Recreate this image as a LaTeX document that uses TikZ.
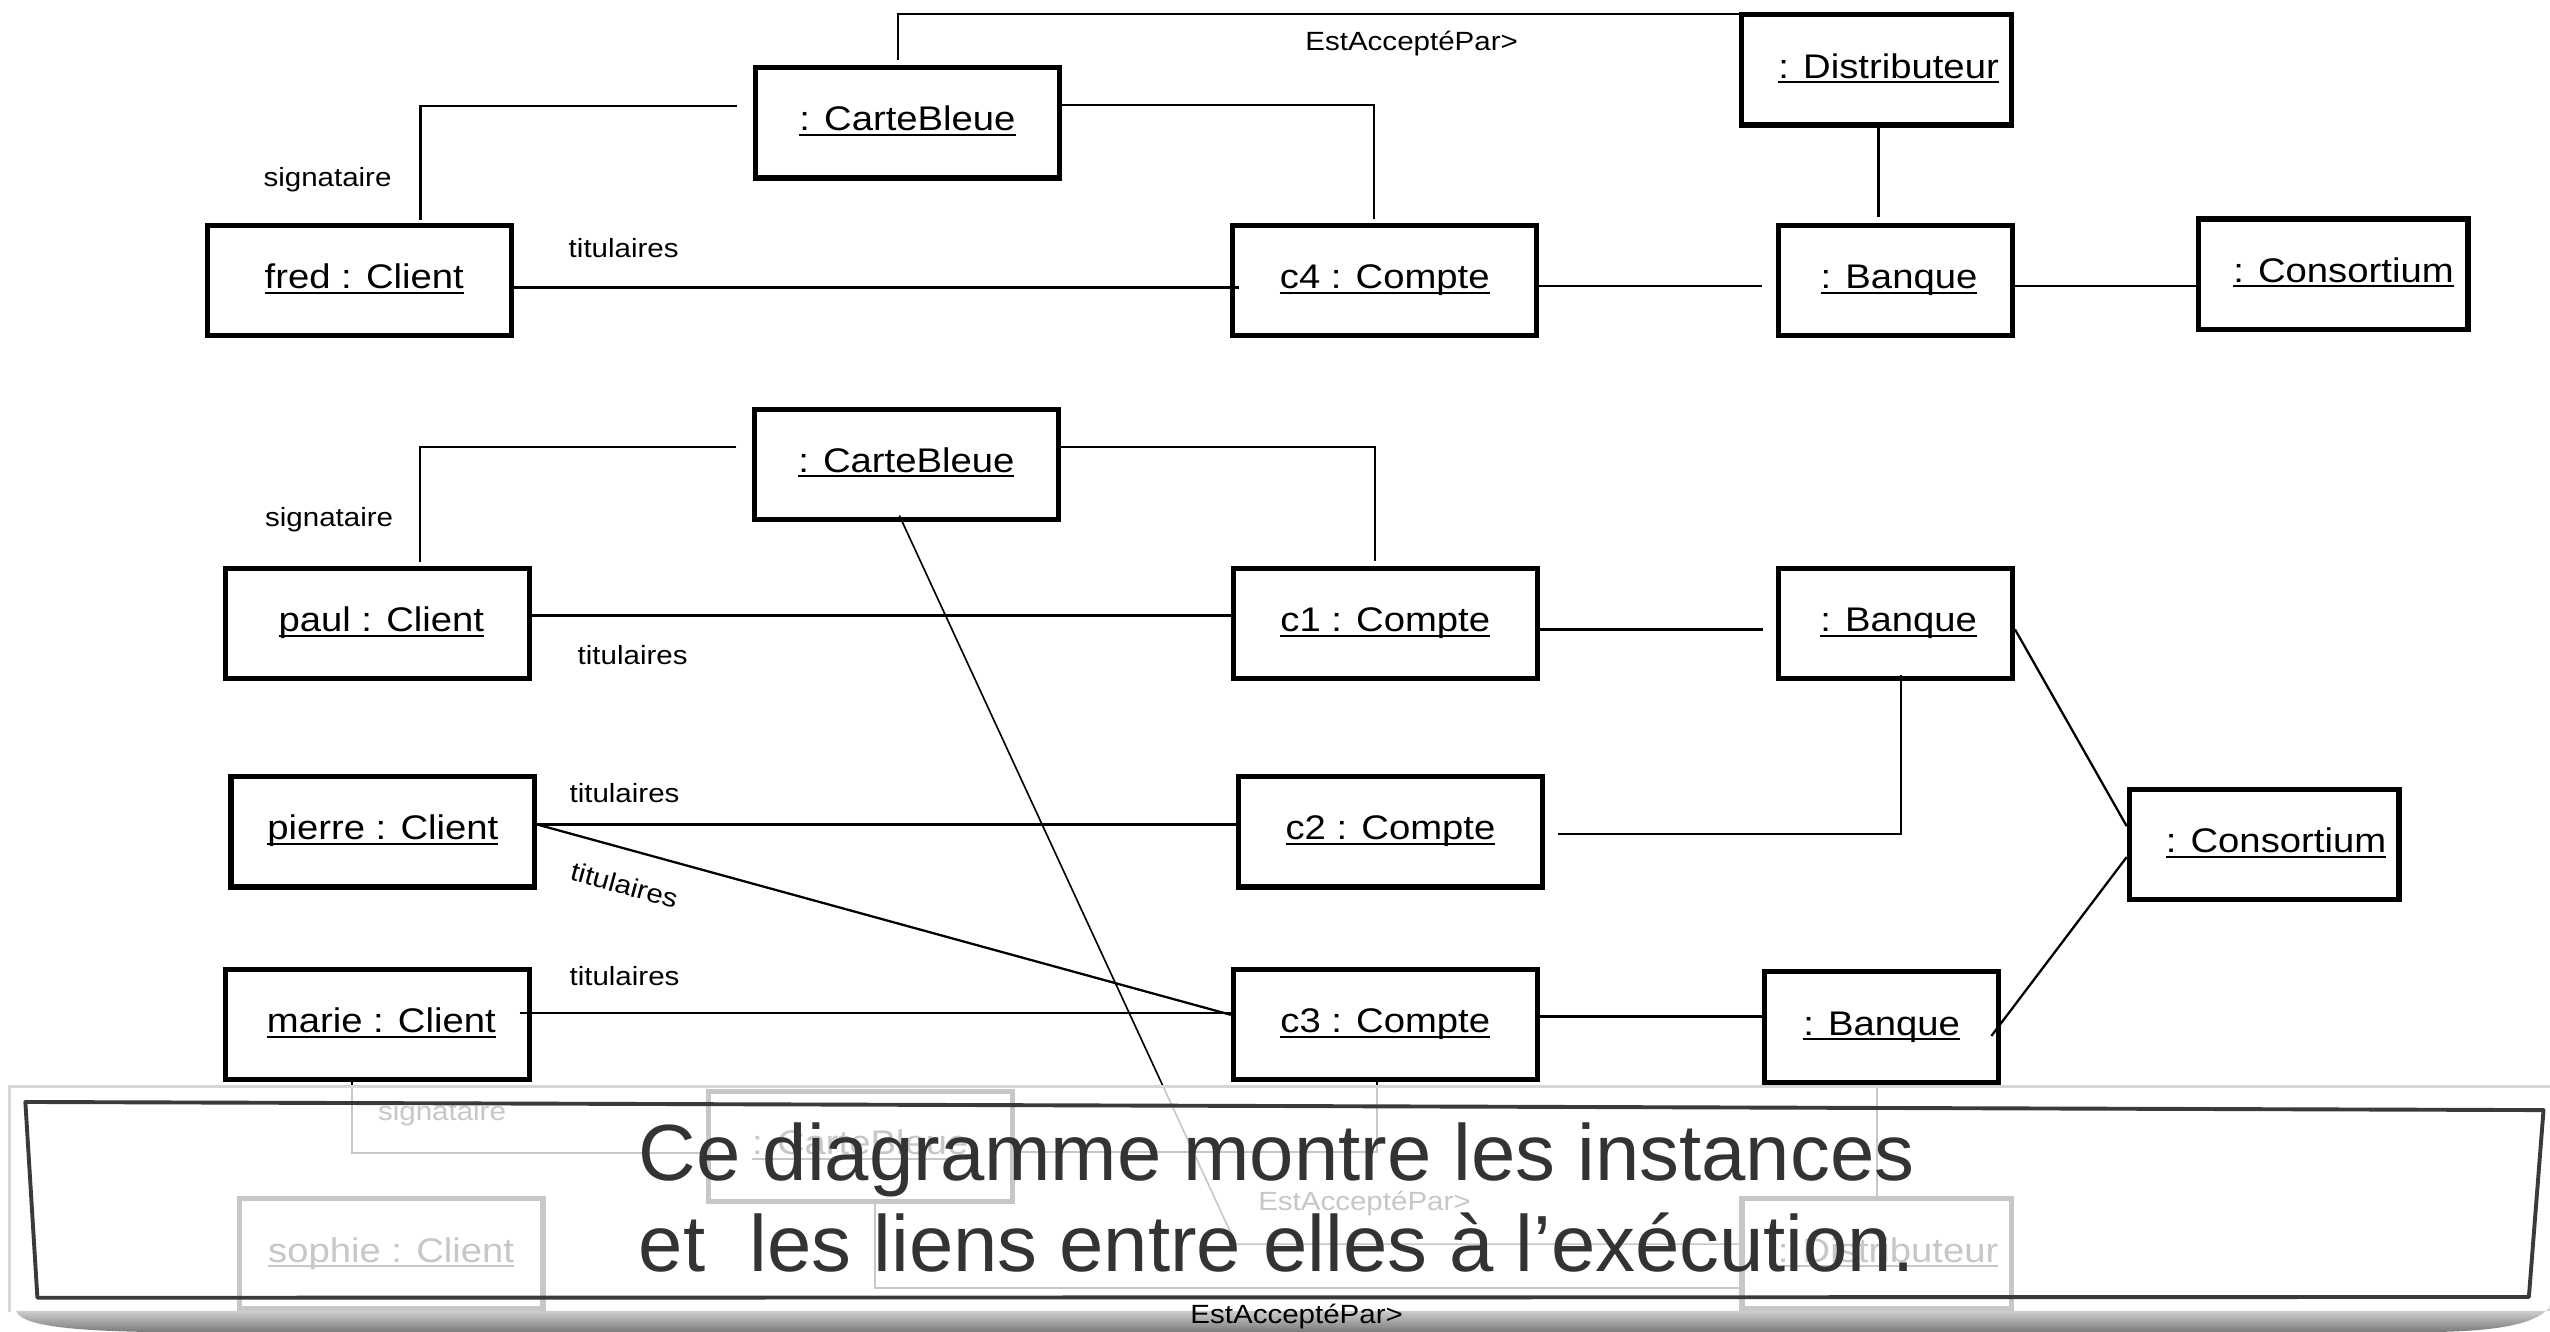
\documentclass[tikz,border=0pt]{standalone}
\usepackage{fontspec}
\setmainfont{Liberation Sans}
\newfontfamily\dfont[FakeStretch=1.12]{Liberation Sans}
\usetikzlibrary{calc}
% underline set at a fixed distance under the baseline
\newcommand\uln[1]{\setbox0=\hbox{#1}\rlap{\rule[-1.5pt]{\wd0}{0.6pt}}\box0}
\definecolor{captiongray}{HTML}{333333}
\definecolor{framegray}{HTML}{3A3A3A}
\definecolor{panelrim}{HTML}{D6D6D6}

\begin{document}
\begin{tikzpicture}[x=0.5pt,y=-0.5pt,
  obj/.style={draw, line width=1.6pt, inner sep=0pt, text height=7.4pt, text depth=2.4pt,
              font=\dfont\fontsize{10.5}{12}\selectfont},
  objwide/.style={obj, minimum width=93.4pt, minimum height=33.9pt},
  objbank/.style={obj, minimum width=71.9pt, minimum height=33.9pt},
  objmed/.style={obj, minimum width=82.9pt, minimum height=33.9pt},
  link/.style={line width=0.7pt},
  role/.style={font=\dfont\fontsize{8.1}{10}\selectfont, inner sep=0pt},
  captext/.style={anchor=base west, inner sep=0pt, text=captiongray,
              font=\fontsize{24.5}{28}\selectfont},
]
\useasboundingbox (0,0) rectangle (1568,819);
\fill[white] (0,0) rectangle (1568,819);

% ---------- first group: fred ----------
\node[objwide] (cbA)   at (558,75.5)    {\uln{: CarteBleue}};
\node[objwide] (fred)  at (221,172.5)   {\hspace*{3pt}\uln{fred : Client}};
\node[objwide] (cfour) at (851.5,172.5) {\uln{c4 : Compte}};
\node[objbank] (bqA)   at (1165.7,172.5){\hspace*{2pt}\uln{: Banque}};
\node[objmed]  (csA)   at (1434.7,168.5){\hspace*{6.3pt}\uln{: Consortium}};
\node[objmed]  (distA) at (1153.8,43)   {\hspace*{7.5pt}\uln{: Distributeur}};

\draw[link] ($(cbA.west)+(-10,-10.5)$) -| ($(fred.north)+(37.6,-2)$);
\draw[link] ($(cbA.east)+(0,-11)$) -| ($(cfour.north)+(-6.5,-2.5)$);
\draw[link] ($(cbA.north)+(-6,-3)$) |- ($(distA.north west)+(0,1)$);
\draw[link] ($(fred.east)+(0,4.2)$) -- ($(cfour.west)+(5.5,4.2)$);
\draw[link] ($(cfour.east)+(0,3.5)$) -- ($(bqA.west)+(-9,3.5)$);
\draw[link] ($(bqA.east)+(0,3.5)$) -- ($(csA.west)+(0,7.5)$);
\draw[link] ($(distA.south)+(1.2,0)$) -- ($(distA.south |- bqA.north)+(1.2,-3.4)$);

\node[role] (sigA) at (201.4,110.7) {signataire};
\node[role] (titA) at (383.5,152.8) {titulaires};
\node[role] (estA) at (868,26.5)    {EstAcceptéPar>};

% ---------- second group: paul, pierre, marie ----------
\node[objwide] (cbB)    at (557.3,285.5) {\uln{: CarteBleue}};
\node[objwide] (paul)   at (232,383.5)   {\hspace*{2.5pt}\uln{paul : Client}};
\node[objwide] (pierre) at (235.4,511.5) {\uln{pierre : Client}};
\node[objwide] (marie)  at (232,630)     {\hspace*{2.5pt}\uln{marie : Client}};
\node[objwide] (cone)   at (851.8,383.5) {\uln{c1 : Compte}};
\node[objwide] (ctwo)   at (855,511.5)   {\uln{c2 : Compte}};
\node[objwide] (cthree) at (851.8,630)   {\uln{c3 : Compte}};
\node[objbank] (bqB)    at (1165.5,383.5){\hspace*{2pt}\uln{: Banque}};
\node[objbank] (bqC)    at (1157,631.5)  {\uln{: Banque}};
\node[objmed]  (csB)    at (1392.2,519.3){\hspace*{7.3pt}\uln{: Consortium}};

% ---------- third group (under the caption panel) ----------
\node[objwide] (cbC)    at (529,705)   {\uln{: CarteBleue}};
\node[objwide] (sophie) at (240.5,771) {\uln{sophie : Client}};
\node[objmed]  (distB)  at (1154,771)  {\hspace*{7pt}\uln{: Distributeur}};

\draw[link] ($(cbB.west)+(-9.5,-10.8)$) -| ($(paul.north)+(26.3,-2.7)$);
\draw[link] ($(cbB.east)+(0,-10.8)$) -| ($(cone.north)+(-6.3,-3)$);
\coordinate (bend) at (760,765);
\draw[line width=0.5pt] ($(cbB.south)+(-4.3,-4)$) -- (bend) -- (bend -| distB.west);
\draw[link] ($(paul.east)+(0,-5)$) -- ($(cone.west)+(0,-5)$);
\draw[link] ($(cone.east)+(0,3.5)$) -- ($(bqB.west)+(-8,3.5)$);
\draw[link] ($(pierre.east)+(0,-4.5)$) -- ($(ctwo.west)+(0,-4.5)$);
\draw[link] ($(pierre.east)+(0,-4.5)$) -- ($(cthree.west)+(0,-6)$);
\draw[link] ($(marie.east)+(-7.5,-7)$) -- ($(cthree.west)+(0,-7)$);
\draw[link] ($(cthree.east)+(0,-5)$) -- ($(bqC.west)+(0,-6.5)$);
\draw[link] ($(ctwo.east)+(8,1.5)$) -| ($(bqB.south)+(3.5,-4)$);
\draw[link] ($(bqB.east)+(0,3.5)$) -- ($(csB.west)+(0,-11.3)$);
\draw[link] ($(csB.west)+(0,7.7)$) -- ($(bqC.east)+(-6,5.5)$);

\draw[link] ($(marie.south)+(-15.5,0)$) |- ($(cbC.west)+(0,4)$);
\draw[link] ($(cbC.east)+(0,3.5)$) -| ($(cthree.south)+(-5,0)$);
\draw[link] ($(cbC.south)+(9,0)$) |- ($(distB.west)+(0,21)$);
\draw[link] (bqC.south -| distB.north) -- (distB.north);

\node[role] (sigB) at (202.4,319.8) {signataire};
\node[role] (titB) at (389,402.6)   {titulaires};
\node[role] (titC) at (384,487.7)   {titulaires};
\node[role, rotate=-15.4] (titD) at (384,544.3) {titulaires};
\node[role] (titE) at (384,600.3)   {titulaires};
\node[role] (sigC) at (271.8,684.6) {signataire};
\node[role] (estB) at (839,740)     {EstAcceptéPar>};

% ---------- caption panel ----------
\fill[white, fill opacity=0.78] (6,668) rectangle (1568,807);
\draw[panelrim, line width=0.8pt] (6,807) -- (6,668) -- (1568,668);
\shade[top color=black!12, bottom color=black!52]
  (10,806) .. controls (12,813) and (30,818) .. (90,819) -- (1500,819)
  .. controls (1545,818) and (1562,812) .. (1568,803) -- (1568,806) -- cycle;
\draw[framegray, line width=1.2pt, line join=round]
  (15.6,677.6) -- (1564,682.6) -- (1555,797.5) -- (23,798) -- cycle;
\node[captext] (capA) at (392.5,725.7) {Ce diagramme montre les instances};
\node[captext] (capB) at (392.5,782)   {et\ \ les liens entre elles à l’exécution.};

\node[role] (estC) at (797.3,809.8) {EstAcceptéPar>};
\end{tikzpicture}
\end{document}
